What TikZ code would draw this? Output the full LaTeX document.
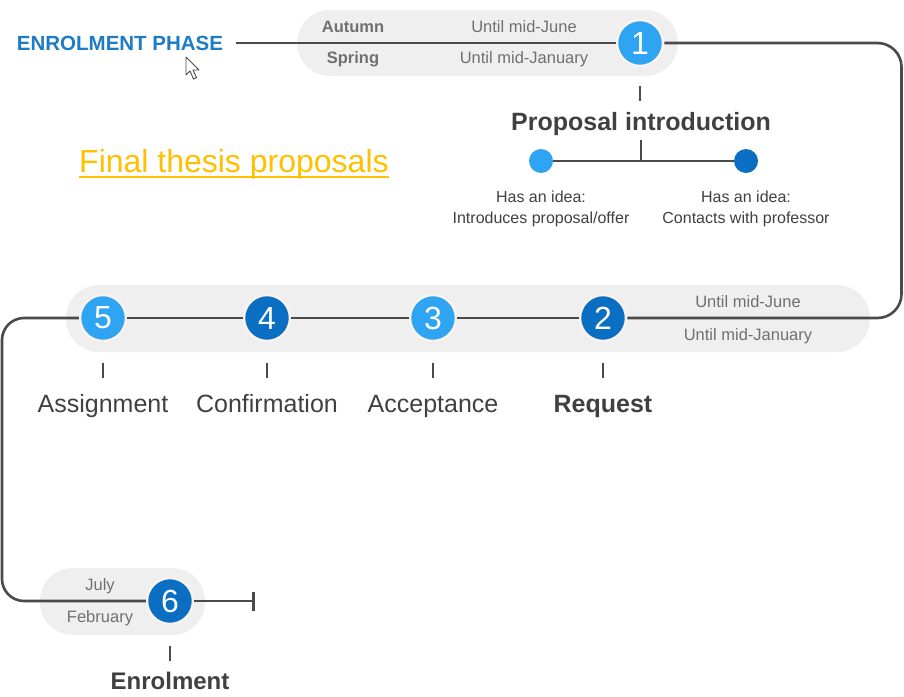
\documentclass[tikz,border=0pt]{standalone}
\usepackage{fontspec}
\setmainfont{Liberation Sans}
\usetikzlibrary{positioning,arrows.meta}
\definecolor{lightstep}{HTML}{2EA4F2}
\definecolor{darkstep}{HTML}{0A6FC2}
\definecolor{halo}{HTML}{F8F3EE}
\definecolor{pillgray}{HTML}{EFEFEF}
\definecolor{flowgray}{HTML}{4A4A4A}
\definecolor{periodgray}{HTML}{707070}
\definecolor{stagegray}{HTML}{404040}
\definecolor{phaseblue}{HTML}{1E7BC6}
\definecolor{gold}{HTML}{FFC000}

\begin{document}
\begin{tikzpicture}[x=1pt,y=-1pt]
    \tikzstyle{stepnum}=[circle, minimum size=46pt, inner sep=0pt, text=white, draw=halo, line width=2.5pt, font=\fontsize{32}{32}\selectfont]
    \tikzstyle{light}=[fill=lightstep]
    \tikzstyle{dark}=[fill=darkstep]
    \tikzstyle{pill}=[fill=pillgray, rounded corners=33pt]
    \tikzstyle{period}=[text=periodgray, inner sep=0pt, font=\fontsize{16.5}{18}\selectfont]
    \tikzstyle{season}=[text=periodgray, inner sep=0pt, font=\bfseries\fontsize{16.5}{18}\selectfont]
    \tikzstyle{stage}=[text=stagegray, inner sep=0pt, anchor=base, font=\fontsize{25}{28}\selectfont]
    \tikzstyle{idea}=[text=stagegray, inner sep=0pt, align=center, font=\fontsize{16}{21}\selectfont]
    \tikzstyle{dot}=[circle, minimum size=24pt, inner sep=0pt]
    \tikzstyle{flow}=[draw=flowgray, line width=2.6pt]
    \tikzstyle{tick}=[draw=flowgray, line width=1.6pt]
    \useasboundingbox (0,0) rectangle (904,696);
    % period bands
    \fill[pill] (297,10) rectangle (678,76);
    \fill[pill] (66,285) rectangle (870,352);
    \fill[pill] (40,568) rectangle (205,635);
    % steps
    \node[stepnum,light] (c1) at (640,43) {1};
    \node[stepnum,dark] (c2) at (603,318) {2};
    \node[stepnum,light] (c3) at (433,318) {3};
    \node[stepnum,dark] (c4) at (267,318) {4};
    \node[stepnum,light] (c5) at (103,318) {5};
    \node[stepnum,dark] (c6) at (170,601) {6};
    \coordinate (fin) at (255,601);
    % phase title
    \node[text=phaseblue, inner sep=0pt, font=\bfseries\fontsize{20.5}{22}\selectfont] (enrol) at (120,43) {ENROLMENT PHASE};
    \node[text=gold, inner sep=0pt, anchor=base west, font=\fontsize{32}{34}\selectfont] (ftp) at (79,172) {Final thesis proposals};
    \draw[gold, line width=1.8pt] ([yshift=-5pt]ftp.base west) -- ([yshift=-5pt]ftp.base east);
    % periods
    \node[season] (autumn) at (353,27) {Autumn};
    \node[season] (spring) at (353,59) {Spring};
    \node[period] (june1) at (524,27) {Until mid-June};
    \node[period] (jan1) at (524,59) {Until mid-January};
    \node[period] (june2) at (748,302) {Until mid-June};
    \node[period] (jan2) at (748,336) {Until mid-January};
    \node[period] (july) at (100,586) {July};
    \node[period] (feb) at (100,618) {February};
    % main line
    \draw[flow] ([xshift=13pt]enrol.east) -- (c1);
    \draw[flow, rounded corners=24pt] (c1) -- (901.5,43) -- (901.5,318) -- (c2);
    \draw[flow] (c2) -- (c3);
    \draw[flow] (c3) -- (c4);
    \draw[flow] (c4) -- (c5);
    \draw[flow, rounded corners=22pt] (c5) -- (2,318) -- (2,601) -- (c6);
    \draw[flow, -{Bar[width=19pt,line width=2.6pt]}] (c6) -- (fin);
    % proposal introduction
    \draw[tick] ([yshift=-19pt]c1.south) -- ([yshift=-34pt]c1.south);
    \node[stage, font=\bfseries\fontsize{25}{28}\selectfont] (intro) at (641,130) {Proposal introduction};
    \coordinate (fork) at (641,161);
    \node[dot,light] (d1) at (541,161) {};
    \node[dot,dark] (d2) at (746,161) {};
    \draw[tick] ([yshift=-10pt]intro.base) -- (fork);
    \draw[flow] (d1) -- (d2);
    \node[idea] (offer) at (541,208.5) {Has an idea:\\Introduces proposal/offer};
    \node[idea] (contact) at (746,208.5) {Has an idea:\\Contacts with professor};
    % stage labels
    \draw[tick] ([yshift=-21pt]c2.south) -- ([yshift=-36pt]c2.south);
    \draw[tick] ([yshift=-21pt]c3.south) -- ([yshift=-36pt]c3.south);
    \draw[tick] ([yshift=-21pt]c4.south) -- ([yshift=-36pt]c4.south);
    \draw[tick] ([yshift=-21pt]c5.south) -- ([yshift=-36pt]c5.south);
    \draw[tick] ([yshift=-21pt]c6.south) -- ([yshift=-36pt]c6.south);
    \node[stage, font=\bfseries\fontsize{25}{28}\selectfont] (request) at ([yshift=-94pt]c2) {Request};
    \node[stage] (accept) at ([yshift=-94pt]c3) {Acceptance};
    \node[stage] (confirm) at ([yshift=-94pt]c4) {Confirmation};
    \node[stage] (assign) at ([yshift=-94pt]c5) {Assignment};
    \node[stage, font=\bfseries\fontsize{24}{28}\selectfont] (enrolment) at ([yshift=-88pt]c6) {Enrolment};
    % pointer
    \draw[flowgray, fill=white, line width=0.9pt, line join=round] (186,57) -- (186,75) -- (190,71) -- (193.5,79) -- (196.5,77.5) -- (193,70) -- (199,70) -- cycle;
\end{tikzpicture}
\end{document}
